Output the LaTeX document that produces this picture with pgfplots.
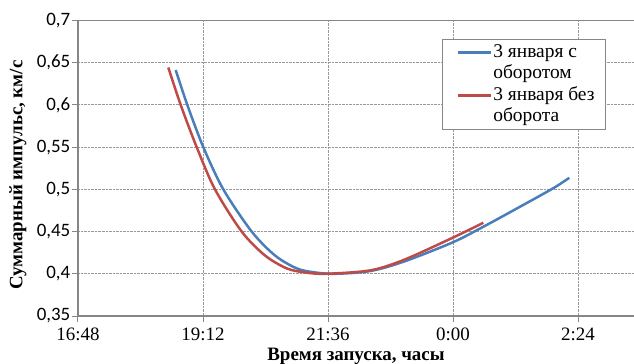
\documentclass[border=0pt]{standalone}
\usepackage{fontspec}
\setmainfont{Liberation Serif}
\newfontfamily\carlito{Carlito}
\usepackage{pgfplots}
\pgfplotsset{compat=1.18}
\definecolor{cblue}{HTML}{4A7EBB}
\definecolor{cred}{HTML}{BE4B48}
\definecolor{axgray}{HTML}{868686}
\begin{document}
\begin{tikzpicture}
\begin{axis}[
  scale only axis, width=556bp, height=295.5bp,
  xmin=16.8, xmax=27.475, ymin=0.35, ymax=0.7,
  separate axis lines, axis x line*=box, axis y line*=left,
  axis line style={draw=axgray, line width=1.3bp},
  xtick={16.8,19.2,21.6,24,26.4},
  xticklabels={16:48,19:12,21:36,0:00,2:24},
  ytick={0.35,0.4,0.45,0.5,0.55,0.6,0.65,0.7},
  xtick pos=left, ytick pos=left,
  tick align=outside, major tick length=6bp,
  tick style={draw=axgray, line width=1bp},
  grid=major, major grid style={densely dotted, draw=gray!80, line width=0.9bp},
  yticklabel style={font=\carlito\fontsize{19}{19}\selectfont, inner xsep=1.5bp, /pgf/number format/.cd, use comma, fixed, precision=2, assume math mode=true},
  xticklabel style={font=\fontsize{19}{19}\selectfont, inner ysep=0bp, yshift=-6bp},
  xlabel={Время запуска, часы},
  ylabel={Суммарный импульс, км/с},
  xlabel style={font=\fontsize{19}{20}\selectfont\bfseries, inner ysep=0bp, at={(rel axis cs:0.5,0)}, anchor=base, yshift=-44bp},
  ylabel style={font=\fontsize{19}{20}\selectfont\bfseries, at={(rel axis cs:-0.108,0.477)}, anchor=center},
  legend image code/.code={\draw[#1] (6bp,0bp) -- (39bp,0bp);},
  legend cell align=left,
  legend style={draw=axgray, line width=1bp, fill=white, anchor=north east,
    at={(rel axis cs:0.9496,0.937)},
    font=\fontsize{19.5}{21.5}\selectfont,
    nodes={inner sep=1bp, text height=14.5bp, text depth=5bp},
    inner xsep=10bp, inner ysep=2bp},
]
\addplot[cblue, line width=2.5bp, smooth] coordinates {
(18.676,0.6413) (18.899,0.600) (19.206,0.550) (19.590,0.500) (20.135,0.450)
(20.582,0.4217) (20.999,0.4064) (21.35,0.4016) (21.75,0.4000) (22.406,0.4032)
(23.046,0.4142) (23.994,0.4372) (24.582,0.4557) (25.286,0.4794) (25.926,0.5014)
(26.233,0.5137)};
\addlegendentry{3 января с}
\addlegendimage{legend image code/.code={}}
\addlegendentry{оборотом}
\addplot[cred, line width=2.5bp, smooth] coordinates {
(18.534,0.6443) (18.772,0.600) (19.079,0.550) (19.430,0.500) (19.943,0.450)
(20.390,0.4217) (20.807,0.4064) (21.15,0.4017) (21.55,0.4000) (22.406,0.4040)
(23.046,0.4162) (23.994,0.4427) (24.582,0.4604)};
\addlegendentry{3 января без}
\addlegendimage{legend image code/.code={}}
\addlegendentry{оборота}
\end{axis}
\pgfresetboundingbox
\path ([xshift=-78bp,yshift=-48bp]current axis.south west) rectangle ([yshift=20.5bp]current axis.north east);
\end{tikzpicture}
\end{document}
